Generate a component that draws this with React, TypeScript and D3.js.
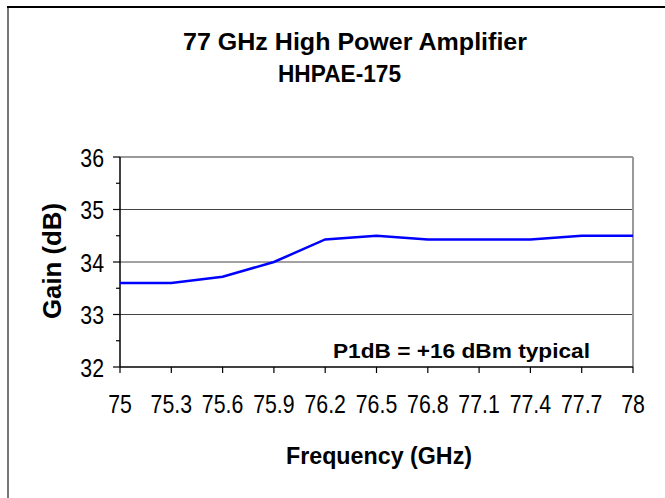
import React from "react";
import { scaleLinear, scalePoint, line, range } from "d3";

const frequencies = ["75", "75.3", "75.6", "75.9", "76.2", "76.5", "76.8", "77.1", "77.4", "77.7", "78"];
const gain = [33.6, 33.6, 33.72, 34.0, 34.43, 34.5, 34.43, 34.43, 34.43, 34.5, 34.5];
const yTicks = [32, 33, 34, 35, 36];

const W = 665;
const H = 498;
const plot = { left: 120, right: 633, top: 157, bottom: 367 };
const font = "'Liberation Sans', Arial, sans-serif";

const App = () => {
  const x = scalePoint<string>().domain(frequencies).range([plot.left, plot.right]);
  const y = scaleLinear().domain([32, 36]).range([plot.bottom, plot.top]);
  const minor = range(32.5, 36, 1);

  const path = line<number>()
    .x((d, i) => x(frequencies[i]) as number)
    .y((d) => y(d))(gain);

  return (
    <div style={{ position: "absolute", left: 0, top: 0 }}>
      <svg width={W} height={H} style={{ display: "block" }}>
        <rect x={0} y={0} width={W} height={H} fill="#fff" />
        {/* outer chart frame, runs off the picture */}
        <line x1={8} y1={7} x2={8} y2={H + 10} stroke="#777" strokeWidth={2} />
        <line x1={7} y1={7} x2={W + 10} y2={7} stroke="#000" strokeWidth={2} />

        <text x={183} y={50} fontFamily={font} fontWeight="bold" fontSize={23}
          textLength={344} lengthAdjust="spacingAndGlyphs">77 GHz High Power Amplifier</text>
        <text x={278} y={82} fontFamily={font} fontWeight="bold" fontSize={23}
          textLength={123} lengthAdjust="spacingAndGlyphs">HHPAE-175</text>

        {/* grid */}
        {yTicks.slice(1, -1).map((t) => (
          <line key={t} x1={plot.left} x2={plot.right} y1={y(t)} y2={y(t)} stroke="#444" strokeWidth={1.2} />
        ))}
        <line x1={plot.left} x2={plot.right} y1={plot.top} y2={plot.top} stroke="#999" strokeWidth={2} />
        <line x1={plot.right} x2={plot.right} y1={plot.top} y2={plot.bottom} stroke="#999" strokeWidth={2} />

        {/* axes */}
        <line x1={plot.left} x2={plot.left} y1={plot.top} y2={plot.bottom} stroke="#000" strokeWidth={1.5} />
        <line x1={plot.left} x2={plot.right} y1={plot.bottom} y2={plot.bottom} stroke="#000" strokeWidth={1.5} />
        {yTicks.map((t) => (
          <g key={t}>
            <line x1={plot.left - 7} x2={plot.left} y1={y(t)} y2={y(t)} stroke="#000" strokeWidth={1.2} />
            <text transform={`translate(104,${y(t) + 9.5}) scale(0.82,1)`} textAnchor="end"
              fontFamily={font} fontSize={26}>{t}</text>
          </g>
        ))}
        {minor.map((t) => (
          <line key={t} x1={plot.left - 4} x2={plot.left} y1={y(t)} y2={y(t)} stroke="#000" strokeWidth={1.2} />
        ))}
        {frequencies.map((f) => (
          <g key={f}>
            <line x1={x(f)} x2={x(f)} y1={plot.bottom} y2={plot.bottom + 6} stroke="#000" strokeWidth={1.2} />
            <text transform={`translate(${x(f)},413) scale(0.82,1)`} textAnchor="middle"
              fontFamily={font} fontSize={26}>{f}</text>
          </g>
        ))}

        <path d={path ?? ""} fill="none" stroke="#0000ff" strokeWidth={2.5} />

        <text x={333} y={358} fontFamily={font} fontWeight="bold" fontSize={21}
          textLength={257} lengthAdjust="spacingAndGlyphs">P1dB = +16 dBm typical</text>

        <text transform="translate(61,261) rotate(-90)" textAnchor="middle" fontFamily={font}
          fontWeight="bold" fontSize={25} textLength={116} lengthAdjust="spacingAndGlyphs">Gain (dB)</text>
        <text x={286} y={464} fontFamily={font} fontWeight="bold" fontSize={23}
          textLength={186} lengthAdjust="spacingAndGlyphs">Frequency (GHz)</text>
      </svg>
    </div>
  );
};

export default App;
